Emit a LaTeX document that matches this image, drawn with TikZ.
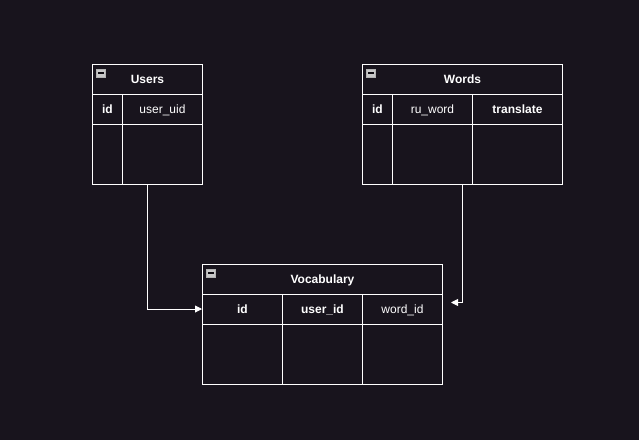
\documentclass[tikz,border=0pt]{standalone}
\usepackage{fontspec}
\setmainfont{Liberation Sans}
\usetikzlibrary{arrows.meta}
\definecolor{bg}{RGB}{24,20,29}
\definecolor{iconbg}{RGB}{200,200,200}
\begin{document}
\begin{tikzpicture}[x=1pt,y=-1pt,
  line width=0.9pt,
  cell/.style={draw=white, fill=bg, minimum height=30pt, inner sep=0pt, text height=9.8pt, text depth=1.6pt, anchor=north west, text=white, font=\fontsize{12}{14}\selectfont},
  hdr/.style={cell, font=\fontsize{12}{14}\selectfont\bfseries},
  body/.style={cell, minimum height=60pt},
  conn/.style={draw=white, line width=0.9pt, -{Triangle[length=7pt,width=7pt]}}
]
\fill[bg] (0,0) rectangle (639,440);
\useasboundingbox (0,0) rectangle (639,440);
\newcommand{\mnicon}[2]{%
  \fill[iconbg] (#1,#2) rectangle ++(9,8);
  \fill[bg!60!black] (#1+1.5,#2+3.4) rectangle ++(6,1.4);
  \draw[white!70!black, line width=0.3pt] (#1,#2) rectangle ++(9,8);
}
% Users
\node[hdr, minimum width=110pt] (uh) at (92,64) {Users};
\node[hdr, minimum width=30pt] (uc1) at (92,94) {id};
\node[cell, minimum width=80pt] (uc2) at (122,94) {user\_uid};
\node[body, minimum width=30pt] (ub1) at (92,124) {};
\node[body, minimum width=80pt] (ub2) at (122,124) {};
\mnicon{96.5}{69}
% Words
\node[hdr, minimum width=200pt] (wh) at (362,64) {Words};
\node[hdr, minimum width=30pt] (wc1) at (362,94) {id};
\node[cell, minimum width=80pt] (wc2) at (392,94) {ru\_word};
\node[hdr, minimum width=90pt] (wc3) at (472,94) {translate};
\node[body, minimum width=30pt] (wb1) at (362,124) {};
\node[body, minimum width=80pt] (wb2) at (392,124) {};
\node[body, minimum width=90pt] (wb3) at (472,124) {};
\mnicon{366.5}{69}
% Vocabulary
\node[hdr, minimum width=240pt] (vh) at (202,264) {Vocabulary};
\node[hdr, minimum width=80pt] (vc1) at (202,294) {id};
\node[hdr, minimum width=80pt] (vc2) at (282,294) {user\_id};
\node[cell, minimum width=80pt] (vc3) at (362,294) {word\_id};
\node[body, minimum width=80pt] (vb1) at (202,324) {};
\node[body, minimum width=80pt] (vb2) at (282,324) {};
\node[body, minimum width=80pt] (vb3) at (362,324) {};
\mnicon{206.5}{269}
% connectors
\coordinate (uexit) at (147,184);
\coordinate (wexit) at (462,184);
\coordinate (vin1) at (202,309);
\coordinate (vin2) at (451,302.5);
\draw[conn] (uexit) |- (vin1);
\draw[conn] (wexit) |- (vin2);
\end{tikzpicture}
\end{document}
